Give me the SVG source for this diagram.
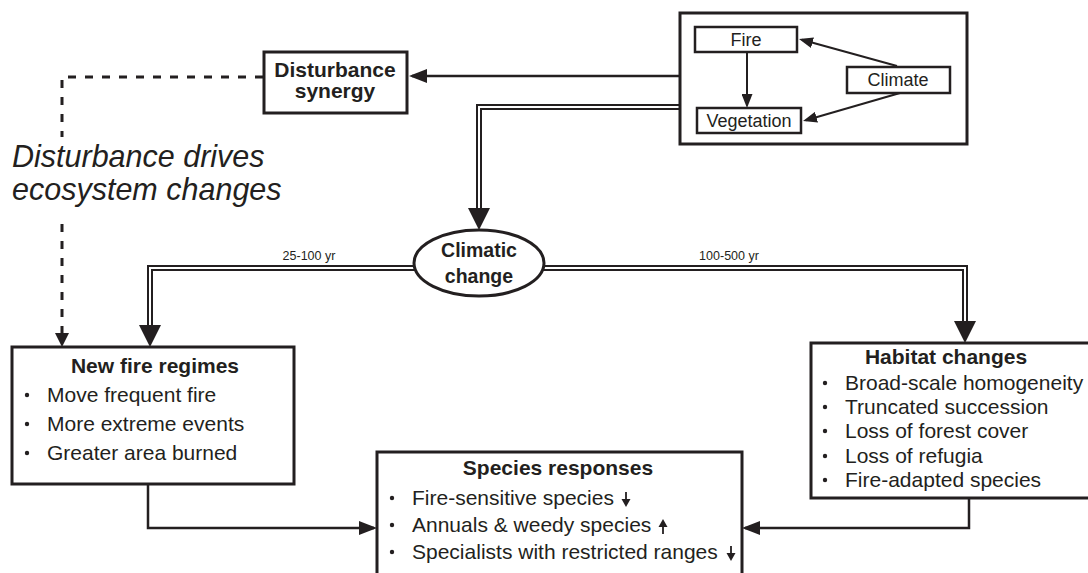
<svg xmlns="http://www.w3.org/2000/svg" width="1088" height="573" viewBox="0 0 1088 573">
<defs>
<style>
.box{fill:#fff;stroke:#231f20;stroke-width:3}
.obox{fill:none;stroke:#231f20;stroke-width:3}
.sbox{fill:#fff;stroke:#231f20;stroke-width:2.5}
.t{font-family:"Liberation Sans",Arial,sans-serif;fill:#231f20}
.title{font-size:21px;font-weight:bold;text-anchor:middle}
.item{font-size:21px}
.small{font-size:18px;text-anchor:middle}
.lbl{font-size:12.5px;text-anchor:middle}
.ital{font-size:30.5px;font-style:italic}
.ln{fill:none;stroke:#231f20;stroke-width:2.5}
.thin{fill:none;stroke:#231f20;stroke-width:2}
.dash{fill:none;stroke:#231f20;stroke-width:3;stroke-dasharray:8 9}
.dblo{fill:none;stroke:#231f20;stroke-width:6}
.dbli{fill:none;stroke:#fff;stroke-width:2}
.head{fill:#231f20}
</style>
<marker id="arr" markerUnits="userSpaceOnUse" markerWidth="20" markerHeight="14" refX="15" refY="7" orient="auto">
<path d="M0,0 L18,7 L0,14 Z" fill="#231f20"/>
</marker>
<marker id="arrs" markerUnits="userSpaceOnUse" markerWidth="15" markerHeight="11" refX="11" refY="5.5" orient="auto">
<path d="M0,0 L14,5.5 L0,11 Z" fill="#231f20"/>
</marker>
</defs>
<rect width="1088" height="573" fill="#fff"/>

<g id="connectors">
<path class="ln" d="M680,76 H412" marker-end="url(#arr)"/>
<path class="dash" d="M263,77 H62 V137"/>
<path class="dash" d="M62,224 V333"/>
<polygon class="head" points="55,333 69,333 62,347"/>
<path class="dblo" d="M680,107 H479 V210"/>
<path class="dbli" d="M680,107 H479 V208"/>
<polygon class="head" points="468,208 490,208 479,230"/>
<path class="dblo" d="M420,268 H150 V327"/>
<path class="dbli" d="M420,268 H150 V325"/>
<polygon class="head" points="139,325 161,325 150,347"/>
<path class="dblo" d="M538,268 H965 V323"/>
<path class="dbli" d="M538,268 H965 V321"/>
<polygon class="head" points="954,321 976,321 965,343"/>
<path class="ln" d="M148,484 V528 H374" marker-end="url(#arr)"/>
<path class="ln" d="M969,498 V528 H745" marker-end="url(#arr)"/>
<path class="thin" d="M747,53 V105" marker-end="url(#arrs)"/>
<path class="thin" d="M897,66 L801.9,39.8" marker-end="url(#arrs)"/>
<path class="thin" d="M900,93 L805.9,120.2" marker-end="url(#arrs)"/>
</g>

<g id="labels">
<text class="t lbl" x="309" y="260">25-100 yr</text>
<text class="t lbl" x="729" y="260">100-500 yr</text>
<text class="t ital" x="12" y="167">Disturbance drives</text>
<text class="t ital" x="12" y="200">ecosystem changes</text>
</g>

<g id="feedback-box">
<rect class="obox" x="680" y="13" width="287" height="131"/>
</g>
<g id="fire">
<rect class="sbox" x="695" y="27" width="102" height="25"/>
<text class="t small" x="746" y="46">Fire</text>
</g>
<g id="climate">
<rect class="sbox" x="847" y="67" width="103" height="26"/>
<text class="t small" x="898" y="86">Climate</text>
</g>
<g id="vegetation">
<rect class="sbox" x="697" y="108" width="104" height="25"/>
<text class="t small" x="749" y="127">Vegetation</text>
</g>

<g id="disturbance-synergy">
<rect class="box" x="264" y="52" width="143" height="61"/>
<text class="t title" x="335" y="77">Disturbance</text>
<text class="t title" x="335" y="98">synergy</text>
</g>

<g id="climatic-change">
<ellipse class="box" cx="479" cy="263" rx="65" ry="33"/>
<text class="t title" x="479" y="257" style="font-size:19.5px">Climatic</text>
<text class="t title" x="479" y="283" style="font-size:19.5px">change</text>
</g>

<g id="new-fire-regimes">
<rect class="box" x="12" y="347" width="282" height="137"/>
<text class="t title" x="155" y="373">New fire regimes</text>
<circle class="head" cx="27" cy="395" r="2.2"/>
<text class="t item" x="47" y="402">Move frequent fire</text>
<circle class="head" cx="27" cy="424" r="2.2"/>
<text class="t item" x="47" y="431">More extreme events</text>
<circle class="head" cx="27" cy="453" r="2.2"/>
<text class="t item" x="47" y="460">Greater area burned</text>
</g>

<g id="habitat-changes">
<rect class="box" x="811" y="343" width="290" height="155"/>
<text class="t title" x="946" y="364">Habitat changes</text>
<circle class="head" cx="825" cy="383" r="2.2"/>
<text class="t item" x="845" y="390">Broad-scale homogeneity</text>
<circle class="head" cx="825" cy="407" r="2.2"/>
<text class="t item" x="845" y="414">Truncated succession</text>
<circle class="head" cx="825" cy="431" r="2.2"/>
<text class="t item" x="845" y="438">Loss of forest cover</text>
<circle class="head" cx="825" cy="456" r="2.2"/>
<text class="t item" x="845" y="463">Loss of refugia</text>
<circle class="head" cx="825" cy="480" r="2.2"/>
<text class="t item" x="845" y="487">Fire-adapted species</text>
</g>

<g id="species-responses">
<rect class="box" x="377" y="452" width="365" height="130"/>
<text class="t title" x="558" y="475">Species responses</text>
<circle class="head" cx="392" cy="498" r="2.2"/>
<text class="t item" x="412" y="505">Fire-sensitive species</text>
<path class="thin" d="M626,492 V500" style="stroke-width:1.8"/>
<polygon class="head" points="621.5,499 630.5,499 626,507"/>
<circle class="head" cx="392" cy="525" r="2.2"/>
<text class="t item" x="412" y="532">Annuals &amp; weedy species</text>
<path class="thin" d="M663,526 V534" style="stroke-width:1.8"/>
<polygon class="head" points="658.5,527 667.5,527 663,519"/>
<circle class="head" cx="392" cy="552" r="2.2"/>
<text class="t item" x="412" y="559">Specialists with restricted ranges</text>
<path class="thin" d="M731,546 V554" style="stroke-width:1.8"/>
<polygon class="head" points="726.5,553 735.5,553 731,561"/>
</g>
</svg>
